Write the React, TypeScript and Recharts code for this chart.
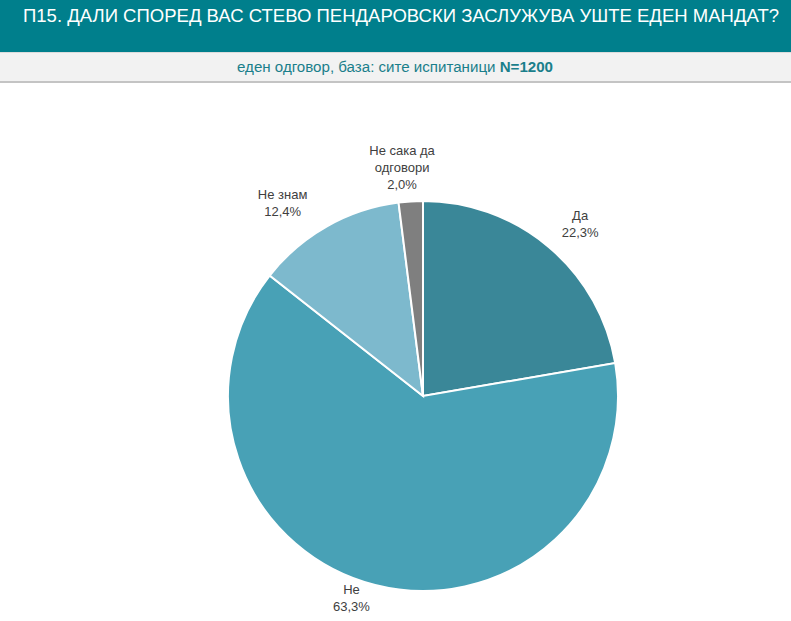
import React from 'react';
import { PieChart, Pie, Cell } from 'recharts';

const categories = ['Да', 'Не', 'Не знам', 'Не сака да одговори'];
const percents = [22.3, 63.3, 12.4, 2.0];
const sliceColors = ['#3A8798', '#48A1B6', '#7DB9CD', '#7F7F7F'];

// label text broken into lines like the original
const labelLines: { [key: string]: string[] } = {
  'Да': ['Да'],
  'Не': ['Не'],
  'Не знам': ['Не знам'],
  'Не сака да одговори': ['Не сака да', 'одговори'],
};

// small manual nudges so labels sit where Excel's best fit put them
const labelNudge: { [key: string]: [number, number] } = {
  'Да': [14, -3],
  'Не': [-17, -14],
  'Не знам': [-31, 0],
  'Не сака да одговори': [-7, -7],
};

const data = categories.map((name, i) => ({ name, value: percents[i] }));

const RADIAN = Math.PI / 180;

const renderLabel = (props: any) => {
  const { cx, cy, midAngle, outerRadius, name, value } = props;
  const r = outerRadius + 27;
  const nudge = labelNudge[name] || [0, 0];
  const x = cx + r * Math.cos(-midAngle * RADIAN) + nudge[0];
  const y = cy + r * Math.sin(-midAngle * RADIAN) + nudge[1];
  const lines = [...(labelLines[name] || [name]), value.toFixed(1).replace('.', ',') + '%'];
  const lh = 17;
  const top = y - ((lines.length - 1) * lh) / 2;
  return (
    <text
      x={x}
      y={top}
      textAnchor="middle"
      dominantBaseline="central"
      fill="#404040"
      fontSize={13}
      fontFamily="'Liberation Sans', Arial, sans-serif"
    >
      {lines.map((l, i) => (
        <tspan key={i} x={x} y={top + i * lh}>
          {l}
        </tspan>
      ))}
    </text>
  );
};

export default function App() {
  return (
    <div
      style={{
        position: 'absolute',
        left: 0,
        top: 0,
        width: 791,
        height: 621,
        background: '#FFFFFF',
        overflow: 'hidden',
      }}
    >
      {/* title band */}
      <div style={{ position: 'absolute', left: 0, top: 0, width: 791, height: 52, background: '#007F8C' }} />
      {/* subtitle band */}
      <div
        style={{
          position: 'absolute',
          left: 0,
          top: 52,
          width: 791,
          height: 28,
          background: '#F2F2F2',
          borderTop: '1px solid #DCDCDC',
          borderBottom: '2px solid #C4C4C4',
        }}
      />
      <svg width={791} height={90} style={{ position: 'absolute', left: 0, top: 0 }}>
        <g transform="translate(23 22) scale(1.12 1.12)">
          <text
            x={0}
            y={0}
            fill="#FFFFFF"
            fontSize={17}
            textLength={675}
            lengthAdjust="spacingAndGlyphs"
            fontFamily="'Liberation Sans', Arial, sans-serif"
          >
            П15. ДАЛИ СПОРЕД ВАС СТЕВО ПЕНДАРОВСКИ ЗАСЛУЖУВА УШТЕ ЕДЕН МАНДАТ?
          </text>
        </g>
        <text
          x={237}
          y={72}
          fill="#1A7F8B"
          fontSize={14}
          textLength={316}
          lengthAdjust="spacingAndGlyphs"
          fontFamily="'Liberation Sans', Arial, sans-serif"
        >
          еден одговор, база: сите испитаници <tspan fontWeight="bold">N=1200</tspan>
        </text>
      </svg>
      <div style={{ position: 'absolute', left: 0, top: 0 }}>
        <PieChart width={791} height={621} margin={{ top: 0, right: 0, bottom: 0, left: 0 }}>
          <Pie
            data={data}
            dataKey="value"
            nameKey="name"
            cx={423}
            cy={396}
            outerRadius={195}
            startAngle={90}
            endAngle={-270}
            stroke="#FFFFFF"
            strokeWidth={2}
            label={renderLabel}
            labelLine={false}
            isAnimationActive={false}
          >
            {data.map((d, i) => (
              <Cell key={d.name} fill={sliceColors[i]} />
            ))}
          </Pie>
        </PieChart>
      </div>
    </div>
  );
}
